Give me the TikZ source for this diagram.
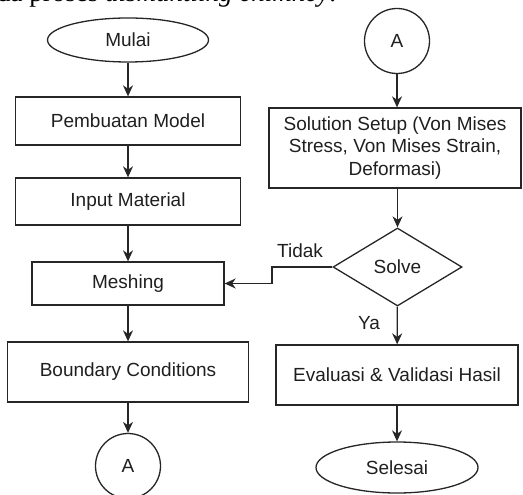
\documentclass[tikz,border=0pt]{standalone}
\usepackage{fontspec}
\setmainfont{Liberation Sans}
\newfontfamily\capfont{Liberation Serif}
\usetikzlibrary{shapes.geometric,arrows.meta}
\tikzset{
  base/.style={draw=black!85, line width=1.3bp, inner sep=0pt, align=center,
    font=\fontsize{19bp}{22.5bp}\selectfont, text=black!88},
  procbox/.style={base, rectangle},
  termin/.style={base, ellipse},
  connector/.style={base, circle, minimum size=65bp},
  decision/.style={base, diamond, minimum width=129bp, minimum height=78bp},
  flow/.style={draw=black!85, line width=1.3bp, -{Stealth[length=11bp,width=10bp,inset=3.5bp]}},
  lbl/.style={font=\fontsize{19bp}{22.5bp}\selectfont, text=black!88, inner sep=0pt}
}
\begin{document}
\begin{tikzpicture}[x=1bp,y=-1bp]
\useasboundingbox (0,0) rectangle (523,495);
% clipped caption line from surrounding document
\node[anchor=base west, inner sep=0pt, font=\capfont\fontsize{27bp}{30bp}\selectfont] (cap) at (-3,1.5) {da proses \textit{dismantling chimney}.};
% left column
\node[termin, minimum width=161bp, minimum height=44bp] (mulai) at (128,40) {Mulai};
\node[procbox, minimum width=225bp, minimum height=48bp] (model) at (128,121) {Pembuatan Model};
\node[procbox, minimum width=225bp, minimum height=47bp] (input) at (128,201.5) {Input Material};
\node[procbox, minimum width=192bp, minimum height=43bp] (mesh) at (128,283.5) {Meshing};
\node[procbox, minimum width=241bp, minimum height=60bp] (bc) at (128,372) {Boundary Conditions};
\node[connector] (a1) at (128,466) {A};
% right column
\node[connector] (a2) at (397,41) {A};
\node[procbox, minimum width=252bp, minimum height=80bp] (sol) at (395,148) {Solution Setup (Von Mises\\Stress, Von Mises Strain,\\Deformasi)};
\node[decision] (solve) at (397.5,267) {Solve};
\node[procbox, minimum width=242bp, minimum height=60bp] (eval) at (397,375) {Evaluasi \& Validasi Hasil};
\node[termin, minimum width=162bp, minimum height=51bp] (selesai) at (397,467.5) {Selesai};
% connectors
\draw[flow] (mulai) -- (model);
\draw[flow] (model) -- (input);
\draw[flow] (input) -- (mesh);
\draw[flow] (mesh) -- (bc);
\draw[flow] (bc) -- (a1);
\draw[flow] (a2) -- (a2 |- sol.north);
\draw[flow] (sol.south -| solve) -- (solve);
\draw[flow] (solve) -- (eval);
\draw[flow] (eval) -- (selesai);
\coordinate (k1) at (272,0);
\draw[flow] (solve.west) -- (solve.west -| k1) -- (k1 |- mesh.east) -- (mesh.east);
\node[lbl] (tidak) at (300,251) {Tidak};
\node[lbl] (ya) at (369,323) {Ya};
\end{tikzpicture}
\end{document}
